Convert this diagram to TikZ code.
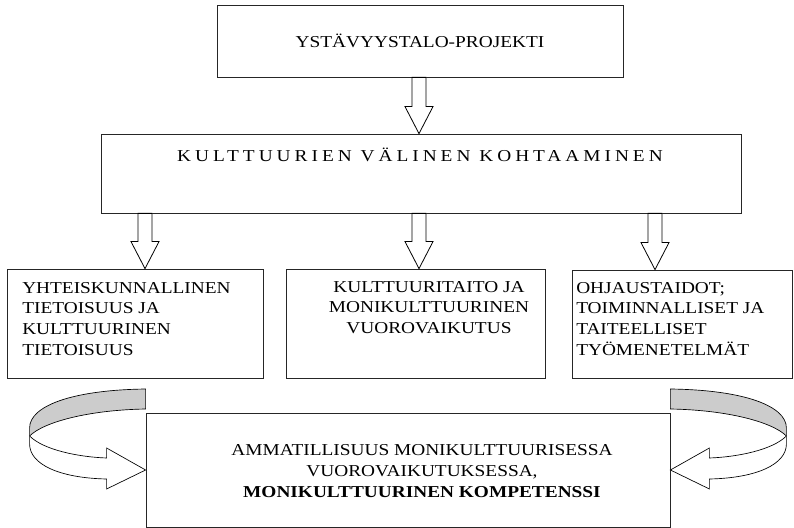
\documentclass[tikz,border=0pt]{standalone}
\usepackage{fontspec}
\setmainfont{Liberation Serif}[FakeStretch=1.16]
\usetikzlibrary{calc}

\begin{document}
\begin{tikzpicture}[x=0.75pt, y=-0.75pt, font=\fontsize{12.5}{15.5}\selectfont,
      box/.style={draw=black!85, line width=0.6pt, inner sep=0pt},
      txt/.style={inner sep=0pt},
      blockarr/.style={draw=black, line width=0.6pt, fill=white,
        to path={($(\tikztostart)+(-7,0)$) -- ($(\tikztotarget)+(-7,-27)$)
          -- ($(\tikztotarget)+(-14,-27)$) -- (\tikztotarget)
          -- ($(\tikztotarget)+(14,-27)$) -- ($(\tikztotarget)+(7,-27)$)
          -- ($(\tikztostart)+(7,0)$) -- cycle}},
      turnarrow/.pic={
        \draw[line width=0.5pt, fill=black!20] (0,-81) .. controls (-74,-80) and (-116,-64) .. (-116,-42)
          -- (-116,-34) .. controls (-102,-48) and (-57,-60) .. (0,-61) -- cycle;
        \draw[line width=0.5pt, fill=white] (-116,-34) .. controls (-102,-20) and (-67,-13) .. (-39,-12)
          -- (-39,-22) -- (0,0) -- (-39,19) -- (-39,9)
          .. controls (-87,8) and (-116,-6) .. (-116,-26) -- cycle;
      }]
    \useasboundingbox (0,0) rectangle (794,528);
    % project and the meeting of cultures
    \node[box, minimum width=304.5pt, minimum height=54pt] (proj) at (420,41) {};
    \node[txt, anchor=base] (projtxt) at (420,48) {YSTÄVYYSTALO-PROJEKTI};
    \node[box, minimum width=480pt, minimum height=59.25pt] (meet) at (421,173.5) {};
    \node[txt, anchor=base] (meettxt) at (420,162)
      {\addfontfeature{LetterSpace=24}KULTTUURIEN VÄLINEN KOHTAAMINEN};
    % the three areas
    \node[box, minimum width=192pt, minimum height=81.75pt] (soc) at (135,323.5) {};
    \node[txt, anchor=north west, align=left] (soctxt) at (22,282)
      {YHTEISKUNNALLINEN\\TIETOISUUS JA\\KULTTUURINEN\\TIETOISUUS};
    \node[box, minimum width=194.25pt, minimum height=81.75pt] (skill) at (415.5,323.5) {};
    \node[txt, anchor=north, align=center] (skilltxt) at (429,281)
      {KULTTUURITAITO JA\\MONIKULTTUURINEN\\VUOROVAIKUTUS};
    \node[box, minimum width=165pt, minimum height=81pt] (guide) at (682,324) {};
    \node[txt, anchor=north west, align=left] (guidetxt) at (576,282)
      {OHJAUSTAIDOT;\\TOIMINNALLISET JA\\TAITEELLISET\\TYÖMENETELMÄT};
    % competence
    \node[box, minimum width=393pt, minimum height=85.5pt] (comp) at (408,470) {};
    \node[txt, align=center] (comptxt) at (422,471)
      {AMMATILLISUUS MONIKULTTUURISESSA\\VUOROVAIKUTUKSESSA,\\\textbf{MONIKULTTUURINEN KOMPETENSSI}};
    % arrows
    \draw[blockarr] (proj.south -| 419,0) to (meet.north -| 419,0);
    \draw[blockarr] (meet.south -| 145,0) to (soc.north -| 145,0);
    \draw[blockarr] (meet.south -| 419,0) to (skill.north -| 419,0);
    \draw[blockarr] (meet.south -| 655,0) to (guide.north -| 655,0);
    \pic at (comp.west) {turnarrow};
    \pic[xscale=-1] at (comp.east) {turnarrow};
  \end{tikzpicture}
\end{document}
